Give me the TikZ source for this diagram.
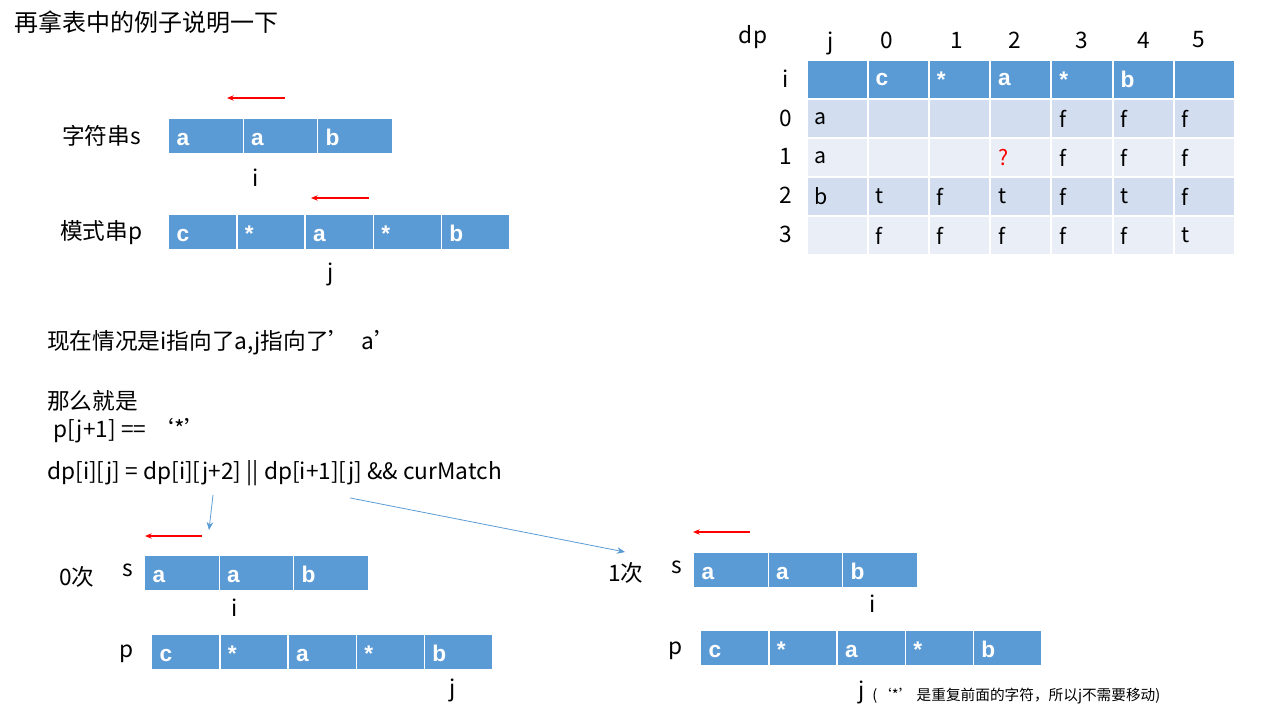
\documentclass[tikz,border=0pt]{standalone}
\usepackage{fontspec}
\setmainfont{Noto Sans CJK SC}
\newfontfamily\cellfont{Liberation Sans}
\usepackage{xcolor}
\usepackage{tikz}
\usetikzlibrary{arrows.meta}
\usetikzlibrary{positioning}
\definecolor{cellblue}{HTML}{5B9BD5}
\definecolor{rowdark}{HTML}{D2DEEF}
\definecolor{rowlight}{HTML}{EAEFF7}

\begin{document}
\begin{tikzpicture}[x=0.75pt,y=-0.75pt,
  txt/.style={inner sep=0pt,anchor=west,font=\fontsize{17}{20}\selectfont},
  lbl/.style={inner sep=0pt,font=\fontsize{17}{20}\selectfont},
  cell/.style={draw=white,line width=1pt,fill=cellblue,text=white,anchor=north west,
    inner xsep=6pt,inner ysep=0pt,minimum height=26.5pt,text width=#1,align=left,
    text height=14pt,text depth=0pt,
    font=\cellfont\bfseries\fontsize{17}{20}\selectfont},
  tcell/.style={draw=white,line width=1.5pt,fill=#1,anchor=north west,inner xsep=6pt,
    inner ysep=0pt,minimum height=29.25pt,text width=33.9pt,align=left,
    font=\fontsize{16}{19}\selectfont},
  thead/.style={tcell=cellblue,text=white,font=\cellfont\bfseries\fontsize{17}{20}\selectfont},
  back/.style={red,line width=0.8pt,-{Stealth[length=5pt,width=4pt]}},
  hint/.style={cellblue,line width=0.6pt,-{Stealth[length=6pt,width=5pt]}}
]
\useasboundingbox (0,0) rectangle (1267,716);

\node[txt,font=\fontsize{18}{21}\selectfont] (title) at (14,22) {再拿表中的例子说明一下};

% top: s and p
\node[txt] (sname) at (62,136) {字符串s};
\foreach \t [count=\k] in {a,a,b}
  \node[cell=43.9pt] (ts\k) at ({168+(\k-1)*74.5},118) {\t};
\node[lbl] (ti) at (256,178) {i};
\coordinate (tsa) at (285,98);
\coordinate (tsb) at (227,98);
\draw[back] (tsa) -- (tsb);

\node[txt] (pname) at (60,233) {模式串p};
\foreach \t [count=\k] in {c,*,a,*,b}
  \node[cell=39.15pt] (tp\k) at ({168+(\k-1)*68.2},214) {\t};
\node[lbl] (tj) at (331,274) {j};
\coordinate (tpa) at (369,198);
\coordinate (tpb) at (311,198);
\draw[back] (tpa) -- (tpb);

% dp table
\node[lbl] (dp) at (753,37) {dp};
\node[lbl] (cj) at (831,43) {j};
\foreach \t/\x in {0/887,1/957,2/1015,3/1082,4/1144,5/1199}
  \node[lbl] (cj\t) at (\x,40) {\t};
\foreach \t/\y in {i/79,0/118,1/156,2/195,3/234}
  \node[lbl] (ri\t) at (786,\y) {\t};
\foreach \t [count=\k from 0] in {{},c,*,a,*,b,{}}
  \node[thead] (h\k) at ({805.5+\k*61.2},59) {\t};
\foreach \t [count=\k from 0] in {a,{},{},{},f,f,f}
  \node[tcell=rowdark] (ra\k) at ({805.5+\k*61.2},98) {\t};
\foreach \t [count=\k from 0] in {a,{},{},{\textcolor{red}{?}},f,f,f}
  \node[tcell=rowlight] (rb\k) at ({805.5+\k*61.2},137) {\t};
\foreach \t [count=\k from 0] in {b,t,f,t,f,t,f}
  \node[tcell=rowdark] (rc\k) at ({805.5+\k*61.2},176) {\t};
\foreach \t [count=\k from 0] in {{},f,f,f,f,f,t}
  \node[tcell=rowlight] (rd\k) at ({805.5+\k*61.2},215) {\t};

% explanation
\node[txt] (now) at (47,343) {现在情况是i指向了a,j指向了’\ \ a’};
\node[txt] (then) at (47,401) {那么就是};
\node[txt] (star) at (53,431) {p[j+1] == ‘*’};
\node[txt] (rule) at (47,473) {dp[i][j] = dp[i][j+2] || dp[i+1][j] \&\& curMatch};
\coordinate (zero) at (209,530);
\coordinate (one) at (625,552);
\draw[hint] (rule.south west) ++(166,9) -- (zero);
\draw[hint] (rule.south west) ++(303,12) -- (one);

% 0 times
\node[txt] (n0) at (59,577) {0次};
\node[lbl] (s0) at (128,570) {s};
\foreach \t [count=\k] in {a,a,b}
  \node[cell=43.9pt] (as\k) at ({144+(\k-1)*74.5},555) {\t};
\node[lbl] (ai) at (235,608) {i};
\coordinate (asa) at (202,536);
\coordinate (asb) at (145,536);
\draw[back] (asa) -- (asb);
\node[lbl] (p0) at (127,654) {p};
\foreach \t [count=\k] in {c,*,a,*,b}
  \node[cell=39.15pt] (ap\k) at ({151+(\k-1)*68.2},634) {\t};
\node[lbl] (aj) at (453,690) {j};

% 1 time
\node[txt] (n1) at (608,573) {1次};
\node[lbl] (s1) at (677,567) {s};
\foreach \t [count=\k] in {a,a,b}
  \node[cell=43.9pt] (bs\k) at ({693+(\k-1)*74.5},552) {\t};
\node[lbl] (bi) at (873,604) {i};
\coordinate (bsa) at (750,532);
\coordinate (bsb) at (693,532);
\draw[back] (bsa) -- (bsb);
\node[lbl] (p1) at (676,651) {p};
\foreach \t [count=\k] in {c,*,a,*,b}
  \node[cell=39.15pt] (bp\k) at ({700+(\k-1)*68.2},630) {\t};
\node[lbl] (bj) at (862,692) {j};
\node[txt,font=\fontsize{11}{13}\selectfont] (note) at (872,696) {(‘*’\ 是重复前面的字符，所以j不需要移动)};
\end{tikzpicture}
\end{document}
